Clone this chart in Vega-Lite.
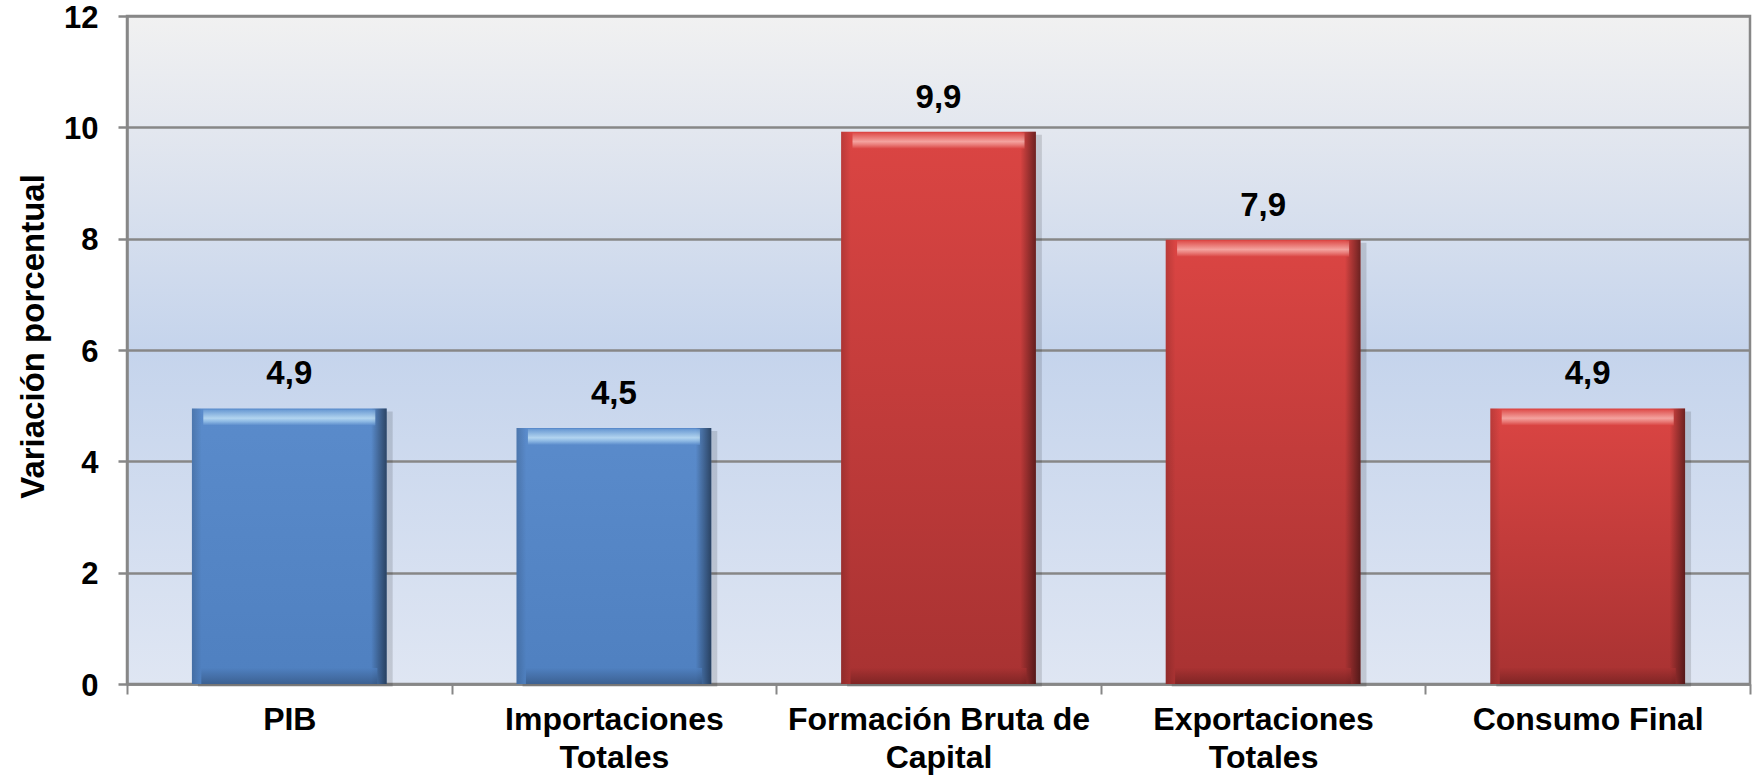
{
  "$schema": "https://vega.github.io/schema/vega-lite/v6.json",
  "width": 1623,
  "height": 668,
  "autosize": "none",
  "padding": {"left": 127, "top": 16, "right": 8, "bottom": 95},
  "background": "white",
  "view": {
    "fill": {"gradient": "linear", "x1": 0, "y1": 0, "x2": 0, "y2": 1,
      "stops": [
        {"offset": 0, "color": "#F1F1F1"},
        {"offset": 0.17, "color": "#E3E7EF"},
        {"offset": 0.5, "color": "#C5D4EC"},
        {"offset": 1, "color": "#DFE6F3"}
      ]},
    "stroke": "#878787",
    "strokeWidth": 2.5
  },
  "data": {
    "values": [
      {"categoria": "PIB", "valor": 4.95, "etiqueta": "4,9", "grupo": "azul"},
      {"categoria": "Importaciones\nTotales", "valor": 4.6, "etiqueta": "4,5", "grupo": "azul"},
      {"categoria": "Formación Bruta de\nCapital", "valor": 9.92, "etiqueta": "9,9", "grupo": "rojo"},
      {"categoria": "Exportaciones\nTotales", "valor": 7.98, "etiqueta": "7,9", "grupo": "rojo"},
      {"categoria": "Consumo Final", "valor": 4.95, "etiqueta": "4,9", "grupo": "rojo"}
    ]
  },
  "encoding": {
    "x": {
      "field": "categoria", "type": "nominal", "sort": null,
      "scale": {"paddingInner": 0, "paddingOuter": 0},
      "axis": {
        "title": null, "labelAngle": 0, "grid": false,
        "labelExpr": "split(datum.label, '\\n')",
        "tickBand": "extent", "ticks": true, "tickSize": 10, "tickColor": "#878787", "tickWidth": 2,
        "domainColor": "#878787", "domainWidth": 2.5,
        "labelFont": "Liberation Sans", "labelFontWeight": "bold", "labelFontSize": 32,
        "labelColor": "#000000", "labelPadding": 10, "labelLineHeight": 38, "labelLimit": 0
      }
    }
  },
  "layer": [
    {
      "mark": {"type": "bar", "fill": "#000000", "opacity": 0.13, "xOffset": 6, "yOffset": 3, "width": {"band": 0.6}},
      "encoding": {
        "y": {"field": "valor", "type": "quantitative",
          "scale": {"domain": [0, 12], "nice": false},
          "axis": {
            "title": "Variación porcentual", "values": [0, 2, 4, 6, 8, 10, 12], "format": "d",
            "grid": true, "gridColor": "#878787", "gridWidth": 2.5,
            "domainColor": "#878787", "domainWidth": 2.5,
            "tickColor": "#878787", "tickWidth": 2.5, "tickSize": 9,
            "labelFont": "Liberation Sans", "labelFontWeight": "bold", "labelFontSize": 31,
            "labelColor": "#000000", "labelPadding": 20, "labelOffset": 2,
            "titleFont": "Liberation Sans", "titleFontWeight": "bold", "titleFontSize": 33,
            "titleColor": "#000000", "titleX": -77, "titleY": 320
          }
        }
      }
    },
    {
      "mark": {"type": "bar", "width": {"band": 0.6}},
      "encoding": {
        "y": {"field": "valor", "type": "quantitative"},
        "fill": {
          "condition": {"test": "datum.grupo === 'azul'",
            "value": {"gradient": "linear", "x1": 0, "y1": 0, "x2": 0, "y2": 1,
              "stops": [{"offset": 0, "color": "#5A8BCB"}, {"offset": 1, "color": "#4F80C0"}]}},
          "value": {"gradient": "linear", "x1": 0, "y1": 0, "x2": 0, "y2": 1,
            "stops": [{"offset": 0, "color": "#DB4543"}, {"offset": 1, "color": "#A83232"}]}
        }
      }
    },
    {
      "mark": {"type": "bar", "width": {"band": 0.6},
        "fill": {"gradient": "linear", "x1": 0, "y1": 0, "x2": 1, "y2": 0,
          "stops": [
            {"offset": 0, "color": "rgba(0,0,0,0.15)"},
            {"offset": 0.05, "color": "rgba(0,0,0,0)"},
            {"offset": 0.92, "color": "rgba(0,0,0,0)"},
            {"offset": 1, "color": "rgba(0,0,0,0.5)"}
          ]}},
      "encoding": {"y": {"field": "valor", "type": "quantitative"}}
    },
    {
      "mark": {"type": "tick", "size": 172, "thickness": 16, "yOffset": 9},
      "encoding": {
        "y": {"field": "valor", "type": "quantitative"},
        "fill": {
          "condition": {"test": "datum.grupo === 'azul'",
            "value": {"gradient": "linear", "x1": 0, "y1": 0, "x2": 0, "y2": 1,
              "stops": [
                {"offset": 0, "color": "#6E9ED6"},
                {"offset": 0.55, "color": "#D8F4FF"},
                {"offset": 0.75, "color": "#A4CDEF"},
                {"offset": 1, "color": "#5A8BCB"}
              ]}},
          "value": {"gradient": "linear", "x1": 0, "y1": 0, "x2": 0, "y2": 1,
            "stops": [
              {"offset": 0, "color": "#E0524F"},
              {"offset": 0.55, "color": "#FFCBC6"},
              {"offset": 0.75, "color": "#F19490"},
              {"offset": 1, "color": "#DA4442"}
            ]}
        }
      }
    },
    {
      "mark": {"type": "tick", "size": 176, "thickness": 16, "yOffset": -8},
      "encoding": {
        "y": {"datum": 0, "type": "quantitative"},
        "fill": {
          "condition": {"test": "datum.grupo === 'azul'",
            "value": {"gradient": "linear", "x1": 0, "y1": 0, "x2": 0, "y2": 1,
              "stops": [{"offset": 0, "color": "#4F80C0"}, {"offset": 1, "color": "#34547F"}]}},
          "value": {"gradient": "linear", "x1": 0, "y1": 0, "x2": 0, "y2": 1,
            "stops": [{"offset": 0, "color": "#A83232"}, {"offset": 1, "color": "#6E1F1F"}]}
        }
      }
    },
    {
      "mark": {"type": "text", "baseline": "alphabetic", "dy": -24,
        "font": "Liberation Sans", "fontSize": 33, "fontWeight": "bold", "color": "#000000"},
      "encoding": {
        "y": {"field": "valor", "type": "quantitative"},
        "text": {"field": "etiqueta"}
      }
    }
  ]
}
